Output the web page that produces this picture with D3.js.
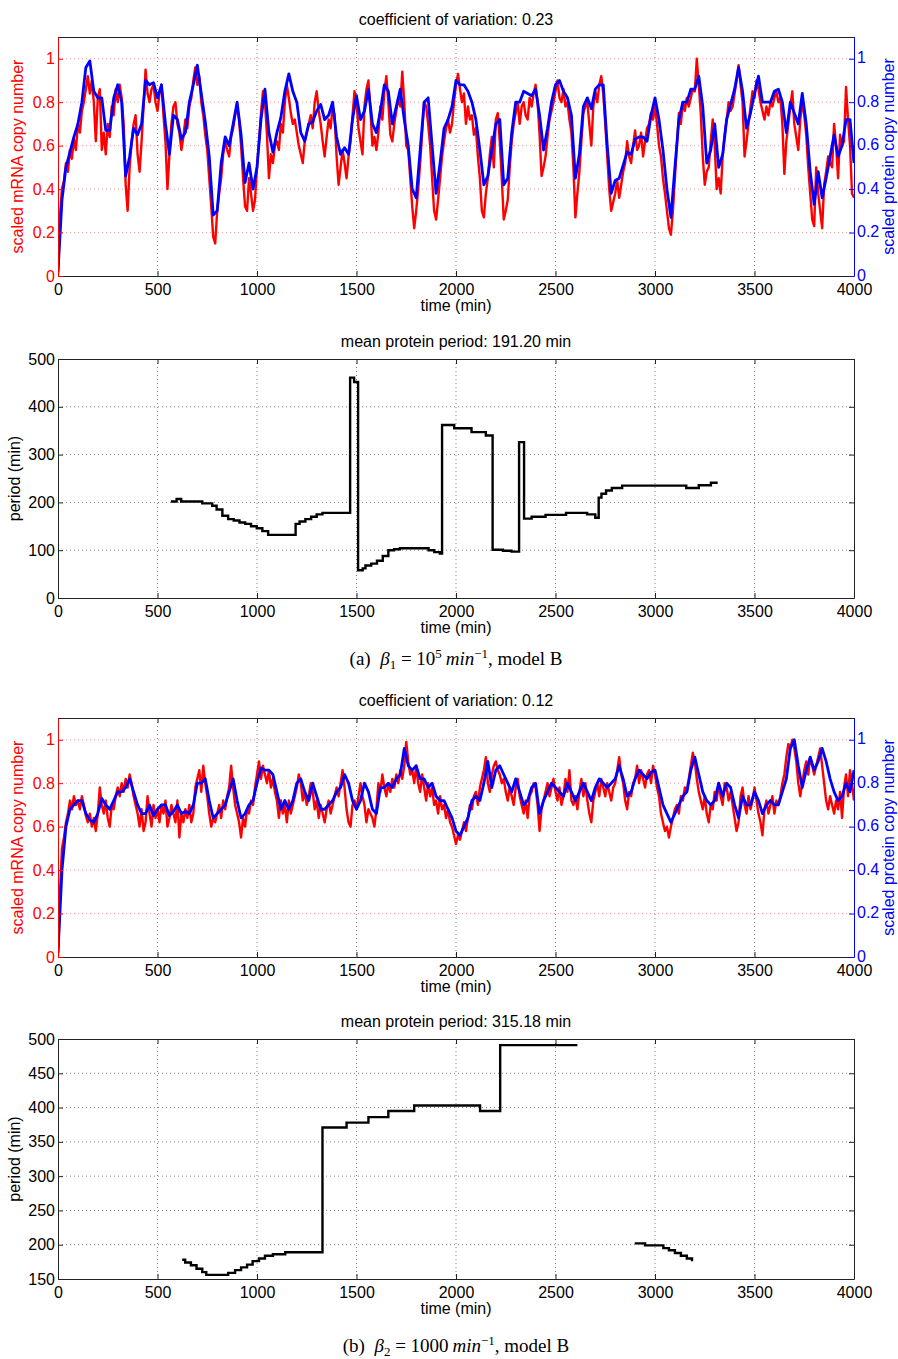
<!DOCTYPE html>
<html>
<head>
<meta charset="utf-8">
<script src="https://cdn.jsdelivr.net/npm/d3@7"></script>
<style>
  body { margin: 0; background: #fff; }
  svg text { font-family: "Liberation Sans", Arial, sans-serif; }
  svg text.caption { font-family: "Liberation Serif", "Times New Roman", serif; }
</style>
</head>
<body>
<svg id="fig" width="898" height="1359"></svg>
<script>
// ---- data ----
const xTicks = [0, 500, 1000, 1500, 2000, 2500, 3000, 3500, 4000]
const copyTicks = [0, 0.2, 0.4, 0.6, 0.8, 1]
const periodTicksA = [0, 100, 200, 300, 400, 500]
const periodTicksB = [150, 200, 250, 300, 350, 400, 450, 500]

const mrnaStep = 10     // minutes between mRNA samples
const proteinStep = 20  // minutes between protein samples

// (a) beta1 = 1e5, scaled mRNA copy number, one value every 10 min
const mrnaA = [
  0.00,0.28,0.40,0.44,0.52,0.48,0.58,0.54,0.63,0.58,
  0.70,0.66,0.76,0.80,0.86,0.92,0.84,0.90,0.80,0.62,
  0.82,0.86,0.58,0.66,0.56,0.70,0.64,0.78,0.74,0.86,
  0.80,0.88,0.82,0.70,0.42,0.30,0.50,0.62,0.70,0.74,
  0.56,0.48,0.62,0.78,0.95,0.84,0.80,0.86,0.88,0.80,
  0.76,0.84,0.88,0.74,0.62,0.40,0.56,0.70,0.78,0.80,
  0.70,0.66,0.58,0.64,0.72,0.68,0.78,0.82,0.90,0.96,
  0.88,0.92,0.80,0.74,0.65,0.58,0.45,0.32,0.18,0.15,
  0.30,0.38,0.45,0.56,0.62,0.58,0.55,0.64,0.68,0.74,
  0.78,0.72,0.60,0.45,0.32,0.30,0.45,0.38,0.30,0.35,
  0.50,0.62,0.75,0.85,0.80,0.65,0.45,0.56,0.52,0.60,
  0.62,0.58,0.70,0.66,0.80,0.88,0.82,0.75,0.70,0.72,
  0.66,0.60,0.56,0.52,0.62,0.66,0.70,0.74,0.68,0.80,
  0.85,0.76,0.70,0.62,0.55,0.64,0.72,0.68,0.78,0.74,
  0.55,0.42,0.50,0.58,0.52,0.45,0.55,0.62,0.74,0.85,
  0.80,0.68,0.62,0.56,0.78,0.86,0.90,0.76,0.60,0.64,
  0.58,0.66,0.78,0.72,0.85,0.92,0.80,0.65,0.62,0.70,
  0.76,0.82,0.78,0.94,0.80,0.60,0.58,0.45,0.32,0.22,
  0.30,0.40,0.52,0.66,0.80,0.78,0.70,0.60,0.45,0.30,
  0.26,0.35,0.45,0.55,0.62,0.68,0.72,0.66,0.70,0.80,
  0.88,0.93,0.86,0.80,0.84,0.70,0.78,0.72,0.74,0.65,
  0.68,0.55,0.45,0.30,0.27,0.38,0.45,0.56,0.64,0.50,
  0.72,0.75,0.62,0.45,0.26,0.30,0.35,0.50,0.62,0.70,
  0.75,0.80,0.70,0.78,0.80,0.74,0.72,0.82,0.78,0.84,
  0.88,0.80,0.65,0.46,0.50,0.55,0.64,0.72,0.76,0.80,
  0.85,0.90,0.82,0.80,0.86,0.78,0.80,0.72,0.66,0.50,
  0.27,0.38,0.48,0.62,0.75,0.78,0.80,0.70,0.60,0.78,
  0.85,0.80,0.88,0.92,0.84,0.70,0.55,0.40,0.30,0.34,
  0.38,0.44,0.36,0.42,0.48,0.52,0.62,0.55,0.52,0.60,
  0.67,0.58,0.60,0.66,0.55,0.62,0.68,0.70,0.75,0.72,
  0.78,0.70,0.60,0.55,0.45,0.38,0.30,0.22,0.19,0.30,
  0.45,0.60,0.75,0.70,0.80,0.76,0.82,0.78,0.82,0.86,
  0.85,1.00,0.88,0.75,0.55,0.42,0.48,0.50,0.62,0.72,
  0.60,0.40,0.45,0.38,0.55,0.65,0.72,0.80,0.76,0.78,
  0.84,0.90,0.97,0.88,0.80,0.55,0.62,0.70,0.78,0.85,
  0.82,0.90,0.86,0.80,0.76,0.72,0.78,0.74,0.80,0.78,
  0.82,0.85,0.80,0.82,0.70,0.47,0.62,0.70,0.78,0.85,
  0.70,0.64,0.58,0.72,0.80,0.74,0.65,0.50,0.38,0.26,
  0.23,0.50,0.38,0.30,0.22,0.42,0.48,0.55,0.52,0.50,
  0.70,0.60,0.45,0.65,0.60,0.62,0.87,0.72,0.60,0.38,
  0.36
]

// (a) scaled protein copy number, one value every 20 min
const proteinA = [
  0.02,0.35,0.50,0.57,0.64,0.70,0.80,0.96,0.99,0.85,
  0.82,0.82,0.67,0.67,0.82,0.88,0.80,0.46,0.55,0.68,
  0.65,0.70,0.90,0.88,0.89,0.82,0.88,0.70,0.56,0.74,
  0.72,0.63,0.66,0.80,0.88,0.97,0.84,0.71,0.55,0.28,
  0.30,0.52,0.64,0.60,0.70,0.80,0.65,0.43,0.52,0.40,
  0.50,0.72,0.86,0.66,0.57,0.66,0.73,0.85,0.93,0.85,
  0.80,0.66,0.62,0.70,0.71,0.76,0.79,0.72,0.74,0.80,
  0.64,0.56,0.59,0.56,0.72,0.83,0.72,0.76,0.86,0.70,
  0.66,0.76,0.88,0.85,0.70,0.78,0.86,0.72,0.60,0.40,
  0.36,0.58,0.80,0.82,0.60,0.38,0.52,0.68,0.72,0.78,
  0.90,0.88,0.88,0.85,0.80,0.72,0.58,0.42,0.46,0.58,
  0.70,0.72,0.42,0.45,0.66,0.80,0.80,0.85,0.84,0.83,
  0.86,0.74,0.58,0.68,0.80,0.88,0.90,0.85,0.82,0.74,
  0.45,0.56,0.78,0.82,0.77,0.86,0.88,0.88,0.60,0.38,
  0.44,0.45,0.51,0.57,0.56,0.63,0.64,0.64,0.62,0.74,
  0.82,0.72,0.58,0.40,0.27,0.50,0.72,0.80,0.80,0.86,
  0.86,0.92,0.78,0.52,0.58,0.70,0.50,0.56,0.72,0.79,
  0.86,0.96,0.85,0.68,0.75,0.84,0.92,0.80,0.80,0.80,
  0.85,0.86,0.80,0.66,0.80,0.75,0.70,0.84,0.70,0.48,
  0.33,0.48,0.36,0.45,0.55,0.65,0.55,0.60,0.72,0.72,
  0.52
]

// (a) protein period, step starts (min) and values (min)
const periodTimesA = [567,596,619,725,775,797,826,855,883,912,941,970,999,1027,1056,1194,1214,1243,1272,1300,1329,
  1468,1488,1508,1531,1545,1574,1603,1632,1660,1689,1718,1862,1891,1919,1930,1991,2078,2150,2184,2236,2279,2317,
  2342,2380,2450,2553,2659,2700,2717,2731,2754,2783,2835,3157,3220,3281,3315]
const periodValuesA = [202,207,202,198,193,185,172,165,162,158,155,150,146,140,132,155,160,165,170,175,178,
  461,452,58,62,68,72,78,88,100,102,104,100,96,93,362,355,347,340,101,99,97,326,
  166,170,174,178,175,168,210,218,225,230,235,230,236,241,241]

// (b) beta2 = 1000, scaled mRNA copy number, every 10 min
const mrnaB = [
  0.00,0.30,0.50,0.55,0.62,0.66,0.72,0.68,0.74,0.70,
  0.72,0.68,0.74,0.70,0.65,0.62,0.66,0.60,0.64,0.58,
  0.66,0.78,0.70,0.66,0.72,0.64,0.60,0.70,0.68,0.74,
  0.78,0.74,0.80,0.76,0.82,0.78,0.84,0.80,0.74,0.70,
  0.66,0.60,0.68,0.58,0.62,0.74,0.66,0.60,0.70,0.64,
  0.68,0.62,0.70,0.66,0.72,0.60,0.64,0.70,0.66,0.62,
  0.72,0.55,0.66,0.62,0.68,0.64,0.70,0.62,0.66,0.78,
  0.82,0.86,0.76,0.88,0.80,0.74,0.66,0.60,0.64,0.62,
  0.66,0.70,0.64,0.72,0.68,0.74,0.78,0.88,0.78,0.70,
  0.66,0.62,0.55,0.64,0.60,0.68,0.66,0.72,0.70,0.78,
  0.84,0.90,0.82,0.88,0.84,0.80,0.86,0.78,0.82,0.76,
  0.72,0.64,0.72,0.66,0.70,0.62,0.72,0.66,0.70,0.74,
  0.78,0.84,0.80,0.72,0.76,0.70,0.74,0.80,0.76,0.68,
  0.72,0.64,0.70,0.66,0.62,0.68,0.72,0.66,0.70,0.74,
  0.78,0.74,0.80,0.86,0.78,0.68,0.62,0.60,0.70,0.72,
  0.68,0.74,0.80,0.74,0.70,0.62,0.68,0.66,0.64,0.60,
  0.68,0.80,0.76,0.84,0.78,0.74,0.80,0.76,0.82,0.78,
  0.84,0.80,0.86,0.82,0.88,0.99,0.90,0.84,0.86,0.80,
  0.88,0.80,0.76,0.84,0.78,0.72,0.80,0.74,0.78,0.70,
  0.72,0.66,0.74,0.68,0.70,0.64,0.68,0.62,0.60,0.56,
  0.52,0.56,0.54,0.58,0.62,0.58,0.64,0.70,0.68,0.74,
  0.76,0.70,0.78,0.82,0.86,0.92,0.80,0.76,0.84,0.88,
  0.90,0.86,0.84,0.80,0.82,0.76,0.72,0.78,0.74,0.70,
  0.78,0.82,0.74,0.70,0.66,0.72,0.64,0.74,0.76,0.80,
  0.78,0.70,0.58,0.68,0.72,0.76,0.80,0.74,0.78,0.82,
  0.76,0.72,0.78,0.70,0.74,0.82,0.76,0.86,0.72,0.70,
  0.74,0.68,0.76,0.82,0.74,0.80,0.72,0.66,0.62,0.72,
  0.76,0.80,0.74,0.82,0.78,0.74,0.80,0.76,0.72,0.78,
  0.80,0.86,0.92,0.84,0.80,0.72,0.68,0.76,0.74,0.80,
  0.82,0.88,0.80,0.86,0.82,0.78,0.84,0.86,0.80,0.88,
  0.84,0.78,0.74,0.66,0.62,0.58,0.60,0.55,0.60,0.64,
  0.68,0.70,0.66,0.74,0.72,0.78,0.76,0.82,0.88,0.94,
  0.90,0.82,0.76,0.72,0.68,0.74,0.66,0.62,0.70,0.68,
  0.76,0.72,0.80,0.74,0.70,0.80,0.78,0.72,0.76,0.70,
  0.64,0.58,0.62,0.74,0.78,0.70,0.66,0.74,0.68,0.72,
  0.78,0.72,0.66,0.62,0.56,0.68,0.72,0.66,0.70,0.74,
  0.66,0.72,0.70,0.74,0.80,0.84,0.92,0.98,0.96,1.00,
  0.96,0.90,0.80,0.74,0.80,0.86,0.90,0.84,0.92,0.88,
  0.84,0.88,0.92,0.96,0.88,0.80,0.72,0.68,0.74,0.70,
  0.66,0.72,0.68,0.76,0.64,0.78,0.84,0.74,0.86,0.80,
  0.72
]

// (b) scaled protein copy number, every 20 min
const proteinB = [
  0.02,0.40,0.60,0.68,0.70,0.72,0.72,0.66,0.63,0.62,
  0.66,0.73,0.70,0.68,0.72,0.76,0.76,0.78,0.82,0.76,
  0.70,0.66,0.66,0.70,0.65,0.68,0.70,0.70,0.65,0.67,
  0.70,0.66,0.67,0.66,0.70,0.80,0.80,0.82,0.72,0.64,
  0.66,0.68,0.70,0.76,0.82,0.72,0.64,0.66,0.70,0.72,
  0.80,0.87,0.86,0.86,0.84,0.76,0.68,0.72,0.68,0.72,
  0.80,0.82,0.76,0.72,0.80,0.74,0.68,0.68,0.70,0.72,
  0.76,0.78,0.84,0.80,0.72,0.68,0.72,0.80,0.76,0.68,
  0.66,0.78,0.78,0.80,0.78,0.82,0.84,0.96,0.88,0.86,
  0.88,0.82,0.82,0.78,0.80,0.74,0.72,0.72,0.68,0.64,
  0.58,0.56,0.60,0.64,0.72,0.74,0.72,0.80,0.90,0.78,
  0.86,0.88,0.84,0.80,0.76,0.82,0.76,0.70,0.72,0.78,
  0.80,0.66,0.72,0.76,0.80,0.78,0.76,0.74,0.80,0.76,
  0.72,0.76,0.80,0.76,0.72,0.78,0.82,0.80,0.78,0.80,
  0.82,0.88,0.82,0.74,0.76,0.82,0.86,0.84,0.82,0.85,
  0.86,0.78,0.70,0.66,0.62,0.66,0.70,0.74,0.76,0.86,
  0.92,0.84,0.76,0.72,0.70,0.72,0.80,0.74,0.80,0.78,
  0.70,0.64,0.74,0.70,0.70,0.76,0.72,0.66,0.70,0.72,
  0.70,0.70,0.76,0.82,0.96,1.00,0.88,0.78,0.86,0.92,
  0.86,0.90,0.96,0.90,0.82,0.76,0.72,0.74,0.80,0.76,
  0.86
]

// (b) protein period; null marks the gap between the two stretches
const periodTimesB = [624,639,668,696,725,745,855,890,920,950,978,1010,1040,1080,1142,1329,1450,1560,1660,1790,2121,2222,2610,
  2700,
  2898,2950,3042,3070,3100,3130,3160,3186]
const periodValuesB = [178,174,170,165,160,156,159,163,167,171,176,180,184,186,189,371,378,386,395,403,395,491,491,
  null,
  202,199,195,192,188,184,180,176]

// ---- drawing ----
const svg = d3.select('#fig')
const left = 58, right = 854
const x = d3.scaleLinear().domain([0, 4000]).range([left, right])
const FONT = '"Liberation Sans", Arial, sans-serif'

function styleAxis(g, color) {
  g.attr('color', color).attr('font-size', 16).attr('font-family', FONT)
  g.selectAll('.tick line').attr('stroke-width', 1)
  g.select('.domain').attr('stroke-width', 1)
}

function gridLines(g, top, bottom, y, yTicks, hColor) {
  g.append('g').selectAll('line')
    .data(xTicks.slice(1, -1))
    .enter().append('line')
    .attr('x1', d => x(d)).attr('x2', d => x(d))
    .attr('y1', top).attr('y2', bottom)
    .attr('stroke', '#666').attr('stroke-width', 0.8).attr('stroke-dasharray', '1,3')
  g.append('g').selectAll('line')
    .data(yTicks.slice(1, y.domain()[1] === yTicks[yTicks.length - 1] ? -1 : undefined))
    .enter().append('line')
    .attr('x1', left).attr('x2', right)
    .attr('y1', d => y(d)).attr('y2', d => y(d))
    .attr('stroke', hColor).attr('stroke-width', 0.8).attr('stroke-dasharray', '1,3')
}

function xAxes(g, top, bottom) {
  g.append('g').attr('transform', 'translate(0,' + top + ')')
    .call(d3.axisTop(x).tickValues(xTicks).tickSizeInner(-5).tickSizeOuter(0).tickFormat(''))
    .call(a => styleAxis(a, '#222'))
  g.append('g').attr('transform', 'translate(0,' + bottom + ')')
    .call(d3.axisBottom(x).tickValues(xTicks).tickSizeInner(-5).tickSizeOuter(0).tickPadding(8).tickFormat(d3.format('d')))
    .call(a => styleAxis(a, '#222'))
    .selectAll('text').attr('fill', '#000')
  g.append('text')
    .attr('x', (left + right) / 2).attr('y', bottom + 35)
    .attr('text-anchor', 'middle').attr('font-size', 16)
    .text('time (min)')
}

function panelTitle(g, top, txt) {
  g.append('text')
    .attr('x', (left + right) / 2).attr('y', top - 12)
    .attr('text-anchor', 'middle').attr('font-size', 16)
    .text(txt)
}

function yLabel(g, xPos, yMid, txt, color) {
  g.append('text')
    .attr('transform', 'translate(' + xPos + ',' + yMid + ') rotate(-90)')
    .attr('text-anchor', 'middle').attr('font-size', 16)
    .attr('fill', color)
    .text(txt)
}

function drawSeriesPanel(id, top, bottom, title, mrna, protein) {
  const y = d3.scaleLinear().domain([0, 1.1]).range([bottom, top])
  const g = svg.append('g')

  g.append('clipPath').attr('id', id)
    .append('rect').attr('x', left).attr('y', top).attr('width', right - left).attr('height', bottom - top)

  gridLines(g, top, bottom, y, copyTicks, '#f08080')

  const line = d3.line().x(d => x(d[0])).y(d => y(d[1]))
  const plot = g.append('g').attr('clip-path', 'url(#' + id + ')')
  plot.append('path')
    .datum(mrna.map((v, i) => [i * mrnaStep, v]))
    .attr('d', line)
    .attr('fill', 'none').attr('stroke', '#ff0000')
    .attr('stroke-width', 2.4).attr('stroke-linejoin', 'round')
  plot.append('path')
    .datum(protein.map((v, i) => [i * proteinStep, v]))
    .attr('d', line)
    .attr('fill', 'none').attr('stroke', '#0000ff')
    .attr('stroke-width', 2.8).attr('stroke-linejoin', 'round')

  xAxes(g, top, bottom)

  g.append('g').attr('transform', 'translate(' + left + ',0)')
    .call(d3.axisLeft(y).tickValues(copyTicks).tickSizeInner(-5).tickSizeOuter(0).tickPadding(3).tickFormat(d3.format('~g')))
    .call(a => styleAxis(a, '#ff0000'))
  g.append('g').attr('transform', 'translate(' + right + ',0)')
    .call(d3.axisRight(y).tickValues(copyTicks).tickSizeInner(-5).tickSizeOuter(0).tickPadding(3).tickFormat(d3.format('~g')))
    .call(a => styleAxis(a, '#0000ff'))
    .selectAll('text').attr('dy', '0.25em')

  panelTitle(g, top, title)
  yLabel(g, 23, (top + bottom) / 2, 'scaled mRNA copy number', '#ff0000')
  yLabel(g, 894, (top + bottom) / 2, 'scaled protein copy number', '#0000ff')
}

function drawPeriodPanel(top, bottom, title, yDomain, yTicks, times, values) {
  const y = d3.scaleLinear().domain(yDomain).range([bottom, top])
  const g = svg.append('g')

  gridLines(g, top, bottom, y, yTicks, '#666')

  const line = d3.line()
    .defined(d => d[1] != null)
    .x(d => x(d[0])).y(d => y(d[1]))
    .curve(d3.curveStepAfter)
  g.append('path')
    .datum(times.map((t, i) => [t, values[i]]))
    .attr('d', line)
    .attr('fill', 'none').attr('stroke', '#000')
    .attr('stroke-width', 2.4)

  xAxes(g, top, bottom)

  g.append('g').attr('transform', 'translate(' + left + ',0)')
    .call(d3.axisLeft(y).tickValues(yTicks).tickSizeInner(-5).tickSizeOuter(0).tickPadding(3).tickFormat(d3.format('d')))
    .call(a => styleAxis(a, '#222'))
    .selectAll('text').attr('fill', '#000')
  g.append('g').attr('transform', 'translate(' + right + ',0)')
    .call(d3.axisRight(y).tickValues(yTicks).tickSizeInner(-5).tickSizeOuter(0).tickFormat(''))
    .call(a => styleAxis(a, '#222'))

  panelTitle(g, top, title)
  yLabel(g, 20, (top + bottom) / 2, 'period (min)', '#000')
}

function caption(yBase, label, sub, power) {
  const t = svg.append('text')
    .attr('class', 'caption')
    .attr('x', 456).attr('y', yBase)
    .attr('text-anchor', 'middle')
    .attr('font-size', 19)
  t.append('tspan').text('(' + label + ')\u2002')
  t.append('tspan').attr('font-style', 'italic').text('\u03b2')
  t.append('tspan').attr('font-size', 13).attr('dy', 4).text(sub)
  t.append('tspan').attr('dy', -4).text(' = ' + power.base)
  if (power.exp) t.append('tspan').attr('font-size', 13).attr('dy', -7).text(power.exp)
  t.append('tspan').attr('dy', power.exp ? 7 : 0).text('\u2009')
  t.append('tspan').attr('font-style', 'italic').text('min')
  t.append('tspan').attr('font-size', 13).attr('dy', -7).text('\u22121')
  t.append('tspan').attr('dy', 7).text(', model B')
}

drawSeriesPanel('clipA', 37, 276, 'coefficient of variation: 0.23', mrnaA, proteinA)
drawPeriodPanel(359, 598, 'mean protein period: 191.20 min', [0, 500], periodTicksA, periodTimesA, periodValuesA)
caption(665, 'a', '1', { base: '10', exp: '5' })

drawSeriesPanel('clipB', 718, 957, 'coefficient of variation: 0.12', mrnaB, proteinB)
drawPeriodPanel(1039, 1279, 'mean protein period: 315.18 min', [150, 500], periodTicksB, periodTimesB, periodValuesB)
caption(1352, 'b', '2', { base: '1000', exp: '' })
</script>
</body>
</html>
